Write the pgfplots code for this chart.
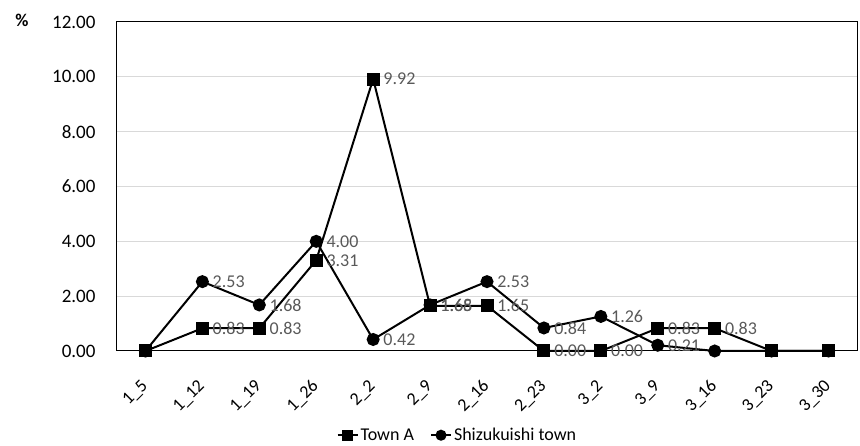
\documentclass[border=0pt]{standalone}
\usepackage{pgfplots}
\pgfplotsset{compat=1.18}
\usepackage{fontspec}
\setmainfont{Carlito}
\definecolor{lbl}{HTML}{595959}
\definecolor{grd}{HTML}{D9D9D9}
\begin{document}
\begin{tikzpicture}
\path[use as bounding box] (-117pt,-95pt) rectangle (743pt,351pt);
\begin{axis}[
  at={(0,0)}, anchor=south west,
  scale only axis, width=740pt, height=329pt,
  xmin=-0.5, xmax=12.5, ymin=0, ymax=12,
  xtick={0,...,12},
  xticklabels={1\_5,1\_12,1\_19,1\_26,2\_2,2\_9,2\_16,2\_23,3\_2,3\_9,3\_16,3\_23,3\_30},
  ytick={0,2,4,6,8,10,12},
  yticklabel style={/pgf/number format/fixed, /pgf/number format/fixed zerofill, /pgf/number format/precision=2, /pgf/number format/assume math mode=true},
  yticklabel style={font=\fontsize{19}{22}\selectfont, anchor=east, xshift=-18pt},
  xticklabel style={font=\fontsize{18}{20}\selectfont, xshift=2pt, yshift=-30pt, rotate=45, anchor=east},
  major tick length=0pt,
  ymajorgrids, major grid style={grd, line width=1pt},
  axis line style={black, line width=1pt},
  clip=false,
  point meta=explicit symbolic,
  nodes near coords,
  every node near coord/.append style={anchor=west, xshift=6pt, text=lbl, font=\fontsize{18}{20}\selectfont},
  legend style={draw=none, at={(0.46,-0.256)}, anchor=center, legend columns=2, font=\fontsize{18}{20}\selectfont,
    /tikz/every even column/.append style={column sep=14pt}, /tikz/every odd column/.append style={column sep=0pt}},
  legend image code/.code={\draw[mark repeat=2,mark phase=2,mark size=4.5pt] plot coordinates {(0pt,0pt) (10pt,0pt) (20pt,0pt)};},
]
\addplot[black, line width=2pt, mark=square*, mark size=5.5pt, mark options={solid}] table[meta=lab] {
x y lab
0 0 {}
1 0.83 0.83
2 0.83 0.83
3 3.31 3.31
4 9.92 9.92
5 1.65 1.65
6 1.65 1.65
7 0 0.00
8 0 0.00
9 0.83 0.83
10 0.83 0.83
11 0 {}
12 0 {}
};
\addlegendentry{Town A}
\addplot[black, line width=2pt, mark=*, mark size=5.5pt, mark options={solid}] table[meta=lab] {
x y lab
0 0 {}
1 2.53 2.53
2 1.68 1.68
3 4.00 4.00
4 0.42 0.42
5 1.68 1.68
6 2.53 2.53
7 0.84 0.84
8 1.26 1.26
9 0.21 0.21
10 0 {}
11 0 {}
12 0 {}
};
\addlegendentry{Shizukuishi town}
\end{axis}
\node[font=\fontsize{18}{20}\selectfont\bfseries] at (-95pt,331pt) {\%};
\end{tikzpicture}
\end{document}
